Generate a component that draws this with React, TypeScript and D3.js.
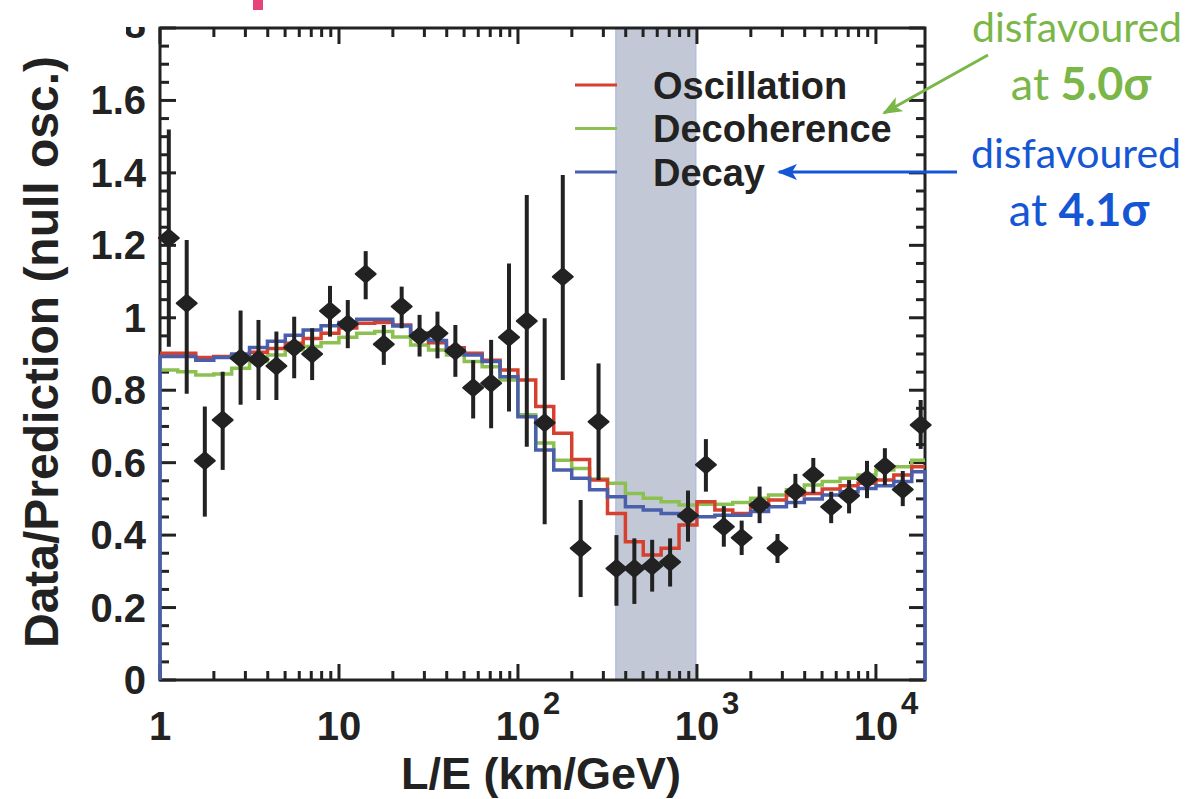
import React from "react"
import * as d3 from "d3"

// L/E bin centres (km/GeV), one per data point
const binCentres = [1.12, 1.41, 1.78, 2.24, 2.82, 3.55, 4.47, 5.62, 7.08, 8.91,
  11.2, 14.1, 17.8, 22.4, 28.2, 35.5, 44.7, 56.2, 70.8, 89.1,
  112, 141, 178, 224, 282, 355, 447, 562, 708, 891,
  1122, 1413, 1778, 2239, 2818, 3548, 4467, 5623, 7079, 8913,
  11220, 14125, 17783]

// data / prediction (null osc.)
const dataRatio = [1.22, 1.04, 0.605, 0.718, 0.888, 0.885, 0.867, 0.918, 0.90, 1.019,
  0.983, 1.121, 0.927, 1.031, 0.95, 0.957, 0.908, 0.807, 0.819, 0.946,
  0.991, 0.71, 1.113, 0.364, 0.713, 0.308, 0.308, 0.315, 0.326, 0.454,
  0.594, 0.423, 0.393, 0.483, 0.364, 0.52, 0.566, 0.478, 0.509, 0.554,
  0.59, 0.526, 0.704]
const errHigh = [1.52, 1.215, 0.755, 0.851, 1.02, 0.994, 0.962, 1.003, 0.971, 1.088,
  1.049, 1.184, 0.98, 1.086, 1.008, 1.017, 0.98, 0.883, 0.939, 1.15,
  1.339, 0.999, 1.394, 0.497, 0.874, 0.40, 0.391, 0.387, 0.391, 0.523,
  0.665, 0.48, 0.44, 0.534, 0.403, 0.569, 0.613, 0.52, 0.552, 0.605,
  0.64, 0.577, 0.773]
const errLow = [0.92, 0.79, 0.451, 0.58, 0.76, 0.773, 0.773, 0.833, 0.828, 0.948,
  0.916, 1.051, 0.87, 0.971, 0.893, 0.888, 0.837, 0.722, 0.695, 0.741,
  0.644, 0.43, 0.828, 0.229, 0.552, 0.205, 0.21, 0.244, 0.258, 0.382,
  0.52, 0.368, 0.345, 0.433, 0.323, 0.475, 0.516, 0.433, 0.46, 0.502,
  0.538, 0.48, 0.638]

// model predictions, one value per bin
const oscillation = [0.902, 0.902, 0.89, 0.893, 0.897, 0.905, 0.915, 0.93, 0.943, 0.957,
  0.972, 0.985, 0.987, 0.98, 0.957, 0.931, 0.917, 0.902, 0.883, 0.856,
  0.828, 0.755, 0.681, 0.609, 0.552, 0.46, 0.382, 0.345, 0.364, 0.428,
  0.492, 0.469, 0.46, 0.483, 0.497, 0.511, 0.515, 0.527, 0.536, 0.543,
  0.552, 0.566, 0.589]
const decoherence = [0.856, 0.851, 0.842, 0.845, 0.861, 0.879, 0.897, 0.911, 0.921, 0.931,
  0.946, 0.957, 0.962, 0.947, 0.925, 0.911, 0.897, 0.879, 0.865, 0.828,
  0.732, 0.654, 0.607, 0.584, 0.555, 0.543, 0.515, 0.502, 0.492, 0.483,
  0.485, 0.485, 0.49, 0.502, 0.511, 0.525, 0.538, 0.548, 0.557, 0.566,
  0.58, 0.589, 0.607]
const decay = [0.893, 0.893, 0.883, 0.89, 0.90, 0.918, 0.935, 0.952, 0.966, 0.978,
  0.987, 0.996, 0.996, 0.977, 0.957, 0.937, 0.911, 0.897, 0.879, 0.837,
  0.727, 0.635, 0.58, 0.557, 0.525, 0.506, 0.478, 0.469, 0.46, 0.453,
  0.451, 0.455, 0.455, 0.465, 0.478, 0.49, 0.50, 0.511, 0.52, 0.529,
  0.536, 0.548, 0.575]

const seriesNames = ["Oscillation", "Decoherence", "Decay"]
const seriesColors = ["#d6402f", "#8cc152", "#4a5fab"]

const yTickValues = [0, 0.2, 0.4, 0.6, 0.8, 1, 1.2, 1.4, 1.6]
const yTickLabels = ["0", "0.2", "0.4", "0.6", "0.8", "1", "1.2", "1.4", "1.6"]
const xTickValues = [1, 10, 100, 1000, 10000]
const xTickBases = ["1", "10", "10", "10", "10"]
const xTickExps = ["", "", "2", "3", "4"]

const bandRange = [352, 987]

const width = 1203, height = 799
const left = 160, right = 925, top = 28, bottom = 680
const font = "'Liberation Sans', Arial, Helvetica, sans-serif"
const annFont = "Lato, 'Open Sans', sans-serif"
const ink = "#222"

export default function App() {
  const x = d3.scaleLog().domain([1, 18800]).range([left, right])
  const y = d3.scaleLinear().domain([0, 1.8]).range([bottom, top])

  // bin edges sit half way (in log) between neighbouring centres
  const edges = [x.domain()[0]]
  for (let i = 1; i < binCentres.length; i++) edges.push(Math.sqrt(binCentres[i - 1] * binCentres[i]))
  edges.push(x.domain()[1])

  const line = d3.line<[number, number]>().x(d => x(d[0])).y(d => y(d[1]))
  function histPath(vals: number[], closed: boolean) {
    const pts: [number, number][] = []
    if (closed) pts.push([edges[0], 0])
    vals.forEach((v, i) => { pts.push([edges[i], v]); pts.push([edges[i + 1], v]) })
    if (closed) pts.push([edges[edges.length - 1], 0])
    return line(pts) || ""
  }

  const yMinor = d3.range(0, 1.8001, 0.05).filter(v => Math.abs(v * 5 - Math.round(v * 5)) > 1e-6)
  const yMajor = [...yTickValues, 1.8]
  const xAll = x.ticks().filter(v => v < 18800)
  const xMajor = xAll.filter(v => Math.abs(Math.log10(v) - Math.round(Math.log10(v))) < 1e-9)
  const xMinor = xAll.filter(v => !xMajor.includes(v))

  const series = [decoherence, oscillation, decay]
  const seriesIdx = [1, 0, 2]

  return (
    <svg width={width} height={height} style={{ position: "absolute", left: 0, top: 0, background: "#fff" }}
      fontFamily={font}>
      <defs>
        <clipPath id="topLabelClip"><rect x={126} y={27} width={26} height={11} /></clipPath>
        <marker id="arrowGreen" viewBox="0 0 20 16" refX={18} refY={8} markerWidth={20} markerHeight={16}
          markerUnits="userSpaceOnUse" orient="auto">
          <path d="M0,0L20,8L0,16L5,8Z" fill="#7ab648" />
        </marker>
        <marker id="arrowBlue" viewBox="0 0 20 16" refX={18} refY={8} markerWidth={20} markerHeight={16}
          markerUnits="userSpaceOnUse" orient="auto">
          <path d="M0,0L20,8L0,16L5,8Z" fill="#1556d4" />
        </marker>
      </defs>

      {/* bit of slide title that pokes in */}
      <rect x={253} y={0} width={10} height={10} fill="#e8427d" />

      {/* excluded L/E band */}
      <rect x={x(bandRange[0])} y={top} width={x(bandRange[1]) - x(bandRange[0])} height={bottom - top}
        fill="#c3c8d7" stroke="#aab4d8" strokeWidth={1} />

      {/* frame */}
      <rect x={left} y={top} width={right - left} height={bottom - top} fill="none" stroke={ink} strokeWidth={3} />

      {/* y ticks, left and right */}
      {yMajor.map(v => (
        <g key={"ym" + v}>
          <line x1={left} x2={left + 16} y1={y(v)} y2={y(v)} stroke={ink} strokeWidth={3} />
          <line x1={right} x2={right - 16} y1={y(v)} y2={y(v)} stroke={ink} strokeWidth={3} />
        </g>
      ))}
      {yMinor.map(v => (
        <g key={"yn" + v}>
          <line x1={left} x2={left + 9} y1={y(v)} y2={y(v)} stroke={ink} strokeWidth={3} />
          <line x1={right} x2={right - 9} y1={y(v)} y2={y(v)} stroke={ink} strokeWidth={3} />
        </g>
      ))}
      {/* x ticks, bottom and top */}
      {xMajor.map(v => (
        <g key={"xm" + v}>
          <line x1={x(v)} x2={x(v)} y1={bottom} y2={bottom - 16} stroke={ink} strokeWidth={3} />
          <line x1={x(v)} x2={x(v)} y1={top} y2={top + 16} stroke={ink} strokeWidth={3} />
        </g>
      ))}
      {xMinor.map(v => (
        <g key={"xn" + v}>
          <line x1={x(v)} x2={x(v)} y1={bottom} y2={bottom - 9} stroke={ink} strokeWidth={3} />
          <line x1={x(v)} x2={x(v)} y1={top} y2={top + 9} stroke={ink} strokeWidth={3} />
        </g>
      ))}

      {/* y tick labels */}
      {yTickValues.map((v, i) => (
        <text key={"yl" + v} x={146} y={y(v) + 14} textAnchor="end" fontSize={40} fontWeight="bold" fill={ink}>
          {yTickLabels[i]}
        </text>
      ))}
      <text x={146} y={y(1.8) + 10} textAnchor="end" fontSize={40} fontWeight="bold" fill={ink}
        clipPath="url(#topLabelClip)">1.8</text>

      {/* x tick labels */}
      {xTickValues.map((v, i) => (
        <g key={"xl" + v}>
          <text x={x(v)} y={740} textAnchor="middle" fontSize={40} fontWeight="bold" fill={ink}>{xTickBases[i]}</text>
          {xTickExps[i] && (
            <text x={x(v) + 25} y={714} fontSize={31} fontWeight="bold" fill={ink}>{xTickExps[i]}</text>
          )}
        </g>
      ))}

      {/* axis titles */}
      <text x={541} y={789} textAnchor="middle" fontSize={45} fontWeight="bold" fill={ink}>L/E (km/GeV)</text>
      <text transform="translate(58,352) rotate(-90)" textAnchor="middle" fontSize={48} fontWeight="bold" fill={ink}>
        Data/Prediction (null osc.)
      </text>

      {/* model histograms */}
      {series.map((vals, j) => (
        <path key={"s" + j} d={histPath(vals, seriesIdx[j] === 2)} fill="none"
          stroke={seriesColors[seriesIdx[j]]} strokeWidth={3.5} />
      ))}

      {/* legend */}
      {seriesNames.map((name, i) => (
        <g key={name} transform={`translate(0,${85 + i * 43.5})`}>
          <line x1={575} x2={617} y1={0} y2={0} stroke={seriesColors[i]} strokeWidth={3} />
          <text x={653} y={13.5} fontSize={38} fontWeight="bold" fill={ink}>{name}</text>
        </g>
      ))}

      {/* data points with error bars */}
      {binCentres.map((c, i) => (
        <g key={"p" + i}>
          <line x1={x(c)} x2={x(c)} y1={y(errLow[i])} y2={y(errHigh[i])} stroke={ink} strokeWidth={4} />
          <path d="M0,-8.5L10,0L0,8.5L-10,0Z" transform={`translate(${x(c)},${y(dataRatio[i])})`}
            fill={ink} stroke={ink} strokeWidth={2} strokeLinejoin="round" />
        </g>
      ))}

      {/* annotations */}
      <text x={1077} y={42} textAnchor="middle" fontSize={41} fontFamily={annFont} fill="#7ab648">disfavoured</text>
      <text x={1081} y={100} textAnchor="middle" fontSize={45} fontFamily={annFont} fill="#7ab648">
        at <tspan fontWeight="bold">5.0σ</tspan>
      </text>
      <line x1={988} y1={55} x2={884} y2={113} stroke="#7ab648" strokeWidth={3} markerEnd="url(#arrowGreen)" />

      <text x={1076} y={168} textAnchor="middle" fontSize={41} fontFamily={annFont} fill="#1556d4">disfavoured</text>
      <text x={1079} y={226} textAnchor="middle" fontSize={45} fontFamily={annFont} fill="#1556d4">
        at <tspan fontWeight="bold">4.1σ</tspan>
      </text>
      <line x1={957} y1={172} x2={779} y2={172} stroke="#1556d4" strokeWidth={3} markerEnd="url(#arrowBlue)" />
    </svg>
  )
}
